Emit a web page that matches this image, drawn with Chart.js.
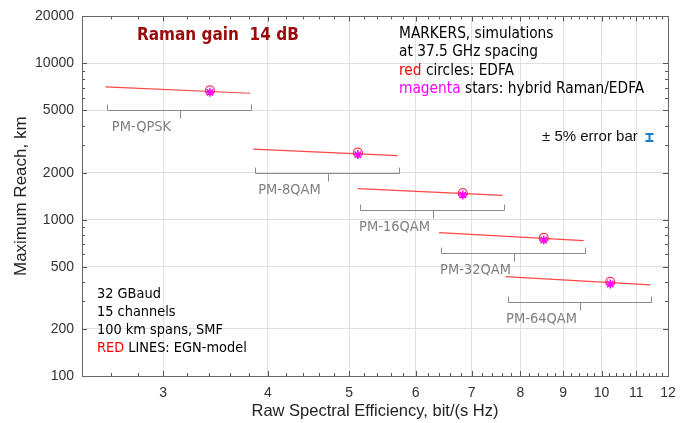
<!DOCTYPE html>
<html>
<head>
<meta charset="utf-8">
<script src="https://cdn.jsdelivr.net/npm/chart.js@4.4.1/dist/chart.umd.min.js"></script>
<style>
  html, body { margin: 0; padding: 0; background: #fff; }
  #contenedor { width: 688px; height: 423px; }
</style>
</head>
<body>
<div id="contenedor"><canvas id="grafico"></canvas></div>
<script>
/*==========================================================
DATOS
==========================================================*/
const formatos = ["PM-QPSK", "PM-8QAM", "PM-16QAM", "PM-32QAM", "PM-64QAM"];

// lineas rojas EGN-model: extremo izquierdo y derecho
const seInicio = [2.56, 3.84, 5.12, 6.4, 7.68];
const seFin = [3.81, 5.71, 7.62, 9.52, 11.43];
const alcanceInicio = [7075, 2833, 1580, 827, 432];
const alcanceFin = [6445, 2570, 1432, 736, 383];

// nivel (km) de la llave gris bajo cada linea
const alcanceLlave = [5000, 2000, 1150, 610, 298];

// marcadores de simulacion a 37.5 GHz
const seMarcador = [3.41, 5.12, 6.83, 8.53, 10.24];
const alcanceEdfa = [6730, 2690, 1480, 765, 400];
const alcanceRaman = [6530, 2610, 1440, 742, 388];

const ticksX = [3, 4, 5, 6, 7, 8, 9, 10, 11, 12];
const ticksY = [100, 200, 500, 1000, 2000, 5000, 10000, 20000];

/*==========================================================
CONFIGURACION
==========================================================*/
const fuenteTexto = "'DejaVu Sans Condensed', 'DejaVu Sans', sans-serif";
const fuenteEje = "'Liberation Sans', Arial, sans-serif";

let datasets = [];
for (let i = 0; i < formatos.length; i++) {
  datasets.push({
    label: "EGN " + formatos[i],
    data: [
      { x: seInicio[i], y: alcanceInicio[i] },
      { x: seFin[i], y: alcanceFin[i] },
    ],
    showLine: true,
    borderColor: "rgba(255, 50, 50, 0.9)",
    borderWidth: 1.2,
    pointRadius: 0,
    order: 3,
  });
}
datasets.push({
  label: "EDFA",
  data: seMarcador.map((x, i) => ({ x: x, y: alcanceEdfa[i] })),
  pointStyle: "circle",
  pointRadius: 4.5,
  borderColor: "rgba(255, 30, 70, 0.9)",
  backgroundColor: "rgba(0,0,0,0)",
  borderWidth: 1.2,
  order: 2,
});
datasets.push({
  label: "Raman/EDFA",
  data: seMarcador.map((x, i) => ({ x: x, y: alcanceRaman[i] })),
  pointStyle: "star",
  pointRadius: 4.5,
  borderColor: "#ff00ff",
  backgroundColor: "#ff00ff",
  borderWidth: 1.5,
  order: 1,
});

// texto con tramos de colores
function textoColores(ctx, partes, x, y) {
  partes.forEach((p) => {
    ctx.fillStyle = p[1];
    ctx.fillText(p[0], x, y);
    x += ctx.measureText(p[0]).width;
  });
}

const pluginDecoracion = {
  id: "decoracion",
  afterDatasetsDraw(chart) {
    const ctx = chart.ctx;
    const a = chart.chartArea;
    const sx = chart.scales.x;
    const sy = chart.scales.y;
    ctx.save();

    // marcas menores y mayores hacia adentro, en los 4 lados
    ctx.strokeStyle = "#555";
    ctx.lineWidth = 1;
    ctx.beginPath();
    for (let v = 2.6; v < 12; v += 0.2) {
      let px = Math.round(sx.getPixelForValue(v)) + 0.5;
      let mayor = ticksX.some((t) => Math.abs(t - v) < 0.01);
      let l = mayor ? 5 : 3;
      ctx.moveTo(px, a.bottom); ctx.lineTo(px, a.bottom - l);
      ctx.moveTo(px, a.top); ctx.lineTo(px, a.top + l);
    }
    for (let d = 100; d < 20000; d *= 10) {
      for (let m = 1; m <= 9; m++) {
        let v = d * m;
        if (v <= 100 || v >= 20000) continue;
        let py = Math.round(sy.getPixelForValue(v)) + 0.5;
        let l = ticksY.indexOf(v) >= 0 ? 5 : 3;
        ctx.moveTo(a.left, py); ctx.lineTo(a.left + l, py);
        ctx.moveTo(a.right, py); ctx.lineTo(a.right - l, py);
      }
    }
    ctx.stroke();

    // marco
    ctx.strokeStyle = "#666";
    ctx.strokeRect(Math.round(a.left) + 0.5, Math.round(a.top) + 0.5,
      Math.round(a.right - a.left), Math.round(a.bottom - a.top));

    // llaves bajo cada linea
    ctx.strokeStyle = "#8a8a8a";
    ctx.fillStyle = "#808080";
    ctx.font = "14.5px " + fuenteTexto;
    ctx.textAlign = "center";
    ctx.textBaseline = "middle";
    for (let i = 0; i < formatos.length; i++) {
      let x0 = Math.round(sx.getPixelForValue(seInicio[i])) + 2.5;
      let x1 = Math.round(sx.getPixelForValue(seFin[i])) + 1.5;
      let yb = Math.round(sy.getPixelForValue(alcanceLlave[i])) + 0.5;
      let xm = Math.round((x0 + x1) / 2) + 0.5;
      ctx.beginPath();
      ctx.moveTo(x0, yb - 6); ctx.lineTo(x0, yb); ctx.lineTo(x1, yb); ctx.lineTo(x1, yb - 6);
      ctx.moveTo(xm, yb); ctx.lineTo(xm, yb + 8);
      ctx.stroke();
      ctx.fillText(formatos[i], xm - 39, yb + 17);
    }

    // anotaciones
    ctx.textAlign = "left";
    ctx.font = "bold 17px " + fuenteTexto;
    ctx.fillStyle = "#9b0a0a";
    ctx.fillText("Raman gain  14 dB", 137, 36);

    ctx.font = "15.3px " + fuenteTexto;
    textoColores(ctx, [["MARKERS, simulations", "#000"]], 399, 34);
    textoColores(ctx, [["at 37.5 GHz spacing", "#000"]], 399, 52.5);
    textoColores(ctx, [["red", "#ff0000"], [" circles: EDFA", "#000"]], 399, 71);
    textoColores(ctx, [["magenta", "#ff00ff"], [" stars: hybrid Raman/EDFA", "#000"]], 399, 89);

    ctx.font = "14.4px " + fuenteTexto;
    textoColores(ctx, [["32 GBaud", "#000"]], 97, 294.5);
    textoColores(ctx, [["15 channels", "#000"]], 97, 312.5);
    textoColores(ctx, [["100 km spans, SMF", "#000"]], 97, 330);
    textoColores(ctx, [["RED", "#ff0000"], [" LINES: EGN-model", "#000"]], 97, 348);

    ctx.font = "15px " + fuenteEje;
    textoColores(ctx, [["\u00b1 5% error bar", "#111"]], 542, 137);

    // icono barra de error
    ctx.strokeStyle = "#1a7ccc";
    ctx.lineWidth = 2;
    ctx.beginPath();
    ctx.moveTo(645.5, 134); ctx.lineTo(653.5, 134);
    ctx.moveTo(649.5, 134); ctx.lineTo(649.5, 141);
    ctx.moveTo(645.5, 141); ctx.lineTo(653.5, 141);
    ctx.stroke();

    ctx.restore();
  },
};

new Chart(document.getElementById("grafico"), {
  type: "scatter",
  data: { datasets: datasets },
  options: {
    responsive: true,
    maintainAspectRatio: false,
    animation: false,
    layout: { padding: { top: 12, right: 20, left: 0, bottom: 0 } },
    plugins: { legend: { display: false }, tooltip: { enabled: false } },
    scales: {
      x: {
        type: "logarithmic",
        min: 2.4,
        max: 12,
        afterBuildTicks: (s) => { s.ticks = ticksX.map((v) => ({ value: v })); },
        afterFit: (s) => { s.height = 47; },
        grid: { color: "#e0e0e0", drawTicks: false },
        border: { display: false },
        ticks: {
          color: "#333",
          font: { family: fuenteEje, size: 14 },
          padding: 9,
          maxRotation: 0,
          autoSkip: false,
          callback: (v) => String(v),
        },
        title: {
          display: true,
          text: "Raw Spectral Efficiency, bit/(s Hz)",
          color: "#222",
          font: { family: fuenteEje, size: 16.5 },
          padding: { top: 0, bottom: 2 },
        },
      },
      y: {
        type: "logarithmic",
        min: 100,
        max: 20000,
        afterBuildTicks: (s) => { s.ticks = ticksY.map((v) => ({ value: v })); },
        afterFit: (s) => { s.width = 82; },
        grid: { color: "#e0e0e0", drawTicks: false },
        border: { display: false },
        ticks: {
          color: "#333",
          font: { family: fuenteEje, size: 14 },
          padding: 8,
          autoSkip: false,
          callback: (v) => String(v),
        },
        title: {
          display: true,
          text: "Maximum Reach, km",
          color: "#222",
          font: { family: fuenteEje, size: 17 },
          padding: { top: 11, bottom: 0 },
        },
      },
    },
  },
  plugins: [pluginDecoracion],
});
</script>
</body>
</html>
